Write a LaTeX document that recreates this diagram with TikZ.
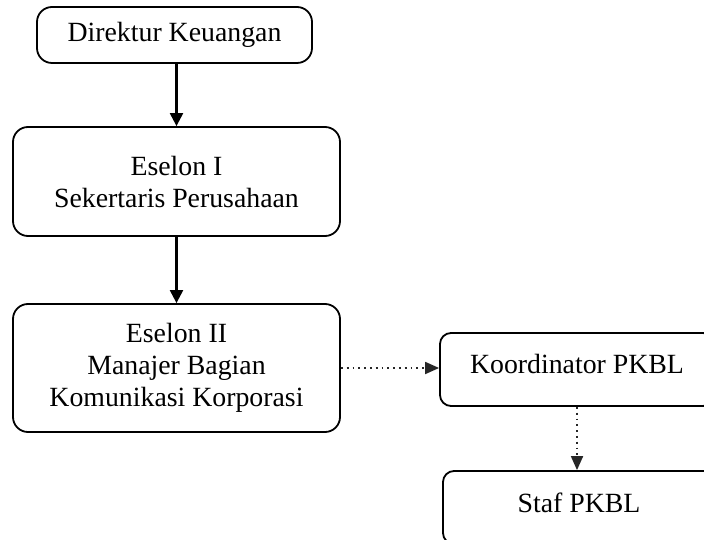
\documentclass[tikz,border=0pt]{standalone}
\usepackage{fontspec}
\setmainfont{Liberation Serif}
\usetikzlibrary{arrows.meta}
\begin{document}
\begin{tikzpicture}[x=0.5pt,y=-0.5pt,
  box/.style={draw=black, line width=0.9pt, rounded corners=7.5pt, align=center,
    inner sep=0pt, font=\fontsize{13.9}{16}\selectfont},
  smallbox/.style={box, rounded corners=5.5pt},
  solidarrow/.style={draw=black, line width=1.1pt, -{Triangle[length=6.5pt,width=6.5pt]}},
  dotarrow/.style={draw=black!85, line width=0.9pt, dotted, -{Triangle[length=7pt,width=6pt]}}
]
\useasboundingbox (0,0) rectangle (704,539);
\node[box, minimum width=137.5pt, minimum height=28pt] (dir) at (174.5,35) {Direktur Keuangan};
\node[box, minimum width=163.5pt, minimum height=54.5pt] (es1) at (176.5,181.5) {Eselon I\\Sekertaris Perusahaan};
\node[box, minimum width=163.5pt, minimum height=64pt] (es2) at (176.5,368) {Eselon II\\Manajer Bagian\\Komunikasi Korporasi};
\node[smallbox, minimum width=137pt, minimum height=36.5pt, text depth=6pt] (kor) at (577,369.5) {Koordinator PKBL};
\node[smallbox, minimum width=136pt, minimum height=36.5pt, text depth=5pt] (staf) at (579,507.5) {Staf PKBL};
\draw[solidarrow] (es1.north |- dir.south) -- (es1.north);
\draw[solidarrow] (es1.south) -- (es2.north);
\draw[dotarrow] (es2.east) -- (es2.east -| kor.west);
\draw[dotarrow] (kor.south) -- (kor.south |- staf.north);
\end{tikzpicture}
\end{document}
